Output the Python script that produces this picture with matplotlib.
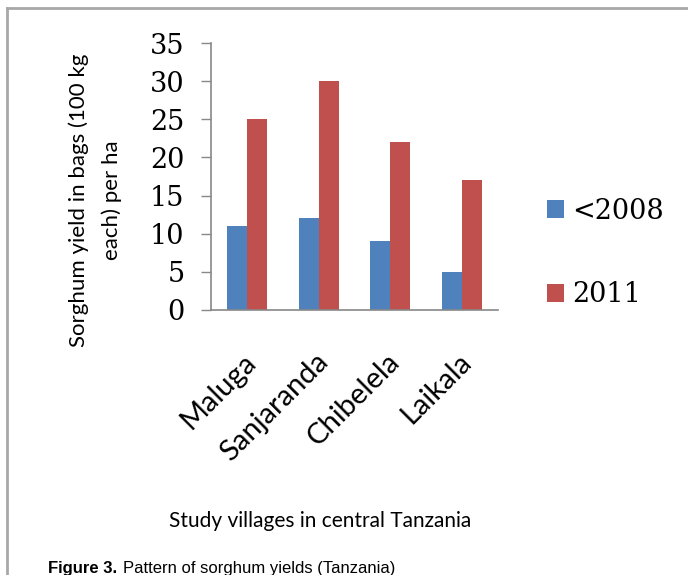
import matplotlib
matplotlib.use("Agg")
import matplotlib.pyplot as plt
import matplotlib.transforms as mtransforms
import numpy as np
from matplotlib.lines import Line2D

villages = ["Maluga", "Sanjaranda", "Chibelela", "Laikala"]
before_2008 = [11, 12, 9, 5]
year_2011 = [25, 30, 22, 17]
yticks = [0, 5, 10, 15, 20, 25, 30, 35]

W, H = 688, 575
fig = plt.figure(figsize=(W / 100, H / 100), dpi=100)
fig.patch.set_facecolor("white")

def px(x, y):
    # pixel (from top-left) -> figure fraction
    return x / W, 1 - y / H

# frame of the figure box (top and left edges only, rest is cropped)
fig.add_artist(Line2D([7 / W, 1], [1 - 8 / H] * 2, color="#a8a8a8", lw=2))
fig.add_artist(Line2D([7 / W] * 2, [1 - 8 / H, 0], color="#a8a8a8", lw=2))

# axes box: x 211..498, y 43..310 in pixels
l, t = px(211, 43)
r, b = px(498, 310)
ax = fig.add_axes([l, b, r - l, t - b])

x = np.arange(len(villages))
bw = 0.28
ax.bar(x - bw / 2, before_2008, bw, color="#4F81BD", label="<2008")
ax.bar(x + bw / 2, year_2011, bw, color="#C0504D", label="2011")

ax.set_xlim(-0.5, len(villages) - 0.5)
ax.set_ylim(0, 35)
ax.set_yticks(yticks)
ax.set_yticklabels([str(v) for v in yticks], family="DejaVu Serif", fontsize=19.5)
ax.tick_params(axis="y", length=7, width=1, color="#888888", pad=12)
ax.tick_params(axis="x", length=0, pad=28)
ax.set_xticks(x)
ax.set_xticklabels(villages, rotation=45, ha="right", va="top", rotation_mode="anchor",
                   family="Lato", fontsize=21)
shift = mtransforms.ScaledTranslation(-4 / 100, 0, fig.dpi_scale_trans)
for lab in ax.get_xticklabels():
    lab.set_transform(lab.get_transform() + shift)

for s in ["top", "right"]:
    ax.spines[s].set_visible(False)
for s in ["left", "bottom"]:
    ax.spines[s].set_color("#888888")
    ax.spines[s].set_linewidth(1.2)

fig.text(*px(95, 200), "Sorghum yield in bags (100 kg\neach) per ha", family="Lato",
         fontsize=16, linespacing=1.75, rotation=90, ha="center", va="center",
         multialignment="center")

fig.text(*px(320, 521), "Study villages in central Tanzania", family="Lato",
         fontsize=15, ha="center", va="center")

leg = ax.legend(loc="upper left", bbox_to_anchor=px(533, 184), bbox_transform=fig.transFigure,
                frameon=False, prop={"family": "DejaVu Serif", "size": 19.5},
                handlelength=0.65, handleheight=0.65, handletextpad=0.3,
                labelspacing=2.1, borderpad=0)

fig.text(*px(48, 561), "Figure 3.", fontsize=12, family="Liberation Sans",
         weight="bold", ha="left", va="top")
fig.text(*px(123, 561), "Pattern of sorghum yields (Tanzania)", fontsize=12,
         family="Liberation Sans", ha="left", va="top")

fig.savefig("out.png", dpi=100)
